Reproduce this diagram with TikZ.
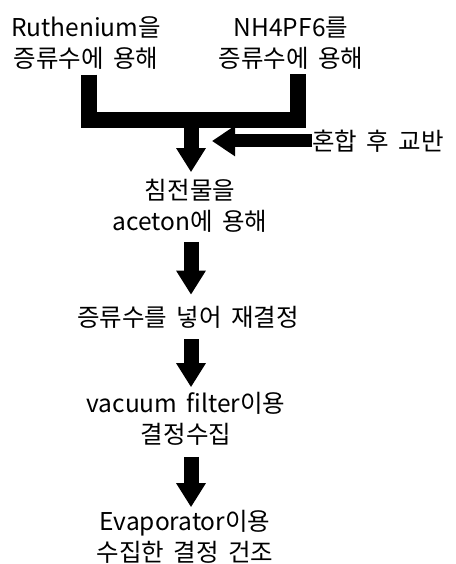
\documentclass[tikz,border=0pt]{standalone}
\usepackage{fontspec}
\setmainfont[WordSpace=1.7]{Noto Sans CJK KR}
\usetikzlibrary{arrows.meta}
\begin{document}
\begin{tikzpicture}[x=1pt,y=-1pt,
  txt/.style={inner sep=0pt, align=center, font=\fontsize{24.5}{31}\selectfont},
  flow/.style={line width=15pt, -{Triangle[width=28pt,length=24pt]}},
  side/.style={line width=13pt, -{Triangle[width=29pt,length=23pt]}},
  fork/.style={line width=16pt},
]
\useasboundingbox[fill=white] (0,0) rectangle (455,564);

% process steps
\node[txt] (r1) at (86,43) {Ruthenium을\\증류수에 용해};
\node[txt] (r2) at (291,43) {NH4PF6를\\증류수에 용해};
\node[txt, anchor=west] (mix) at (312,141) {혼합 후 교반};
\node[txt] (s1) at (190,206) {침전물을\\aceton에 용해};
\node[txt] (s2) at (188,317) {증류수를 넣어 재결정};
\node[txt] (s3) at (186,419) {vacuum filter이용\\결정수집};
\node[txt] (s4) at (185,537) {Evaporator이용\\수집한 결정 건조};

% guide points for the thick connectors
\coordinate (lx) at (89,0);
\coordinate (rx) at (297.5,0);
\coordinate (ax) at (191,0);
\coordinate (j) at (191,120);

% the two solutions are merged
\draw[fork] ([yshift=-5pt]r1.south -| lx) |- (j) -| ([yshift=-5pt]r2.south -| rx);
\draw[flow] (j) -- ([yshift=7pt]s1.north -| ax);
\draw[side] (mix.west) -- ([xshift=21pt]j |- mix.west);

% downstream steps
\draw[flow] ([yshift=-9pt]s1.south -| ax) -- ([yshift=11pt]s2.north -| ax);
\draw[flow] ([yshift=-11pt]s2.south -| ax) -- ([yshift=5pt]s3.north -| ax);
\draw[flow] ([yshift=-11pt]s3.south -| ax) -- ([yshift=3pt]s4.north -| ax);
\end{tikzpicture}
\end{document}
